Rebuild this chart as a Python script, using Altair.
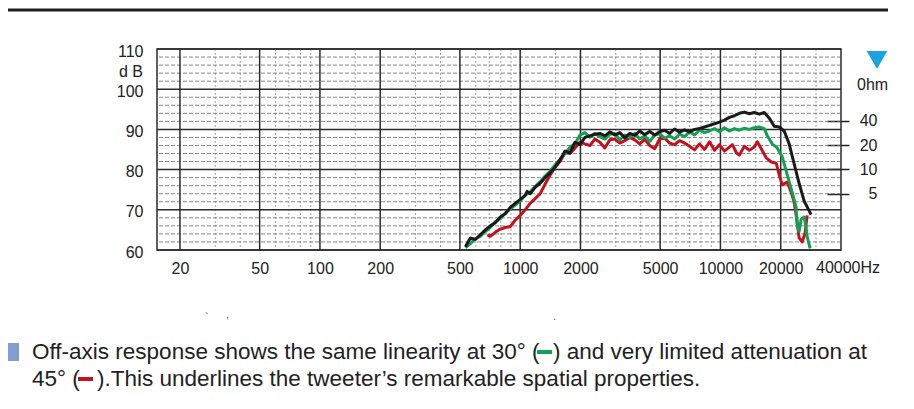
import altair as alt
import pandas as pd

# ---------------- data ----------------
BLACK_HZ = [533, 564, 597, 632, 670, 709, 751, 795, 842, 892, 944, 1000, 1059, 1083, 1121,
            1188, 1258, 1332, 1410, 1494, 1581, 1675, 1774, 1878, 1988, 2106, 2230, 2361,
            2500, 2648, 2804, 2969, 3144, 3330, 3526, 3734, 3954, 4187, 4434, 4695, 4972,
            5265, 5576, 5904, 6252, 6621, 7011, 7425, 7862, 8326, 8817, 9336, 9886, 10469,
            11086, 11740, 12432, 13164, 13941, 14762, 15632, 16554, 17530, 18562, 19657,
            20815, 22042, 23341, 24716, 26173, 27715, 28360]
BLACK_DB = [60.8, 63.0, 62.6, 63.8, 65.0, 66.0, 66.8, 68.2, 69.0, 70.6, 71.6, 72.6, 73.6, 74.6, 74.0,
            75.6, 76.6, 78.0, 79.2, 80.6, 82.4, 84.6, 84.2, 86.8, 86.2, 88.0, 88.4, 88.8,
            89.0, 88.4, 89.4, 88.6, 89.2, 87.9, 89.0, 88.5, 89.6, 88.7, 89.5, 88.6, 89.4,
            89.8, 89.0, 90.1, 89.3, 89.9, 89.4, 90.0, 90.2, 90.6, 91.0, 91.4, 91.8, 92.3,
            93.0, 93.4, 94.0, 94.3, 93.9, 94.2, 93.8, 94.2, 92.8, 90.8, 90.6,
            89.6, 86.4, 81.4, 76.6, 72.2, 69.8, 68.8]

GREEN_HZ = [533, 564, 597, 632, 670, 709, 751, 795, 842, 892, 944, 1000, 1059, 1121,
            1188, 1258, 1332, 1410, 1494, 1581, 1675, 1774, 1878, 1988, 2106, 2230, 2361,
            2500, 2648, 2804, 2969, 3144, 3330, 3526, 3734, 3954, 4187, 4434, 4695, 4972,
            5265, 5576, 5904, 6252, 6621, 7011, 7425, 7862, 8326, 8817, 9336, 9886, 10469,
            11086, 11740, 12432, 13164, 13941, 14762, 15632, 16554, 17135, 18144, 19210,
            20346, 21301, 22042, 22815, 23883, 24160, 24716, 25293, 26173, 26786, 27088, 28039]
GREEN_DB = [60.6, 61.6, 62.8, 63.4, 64.6, 65.6, 67.0, 67.8, 69.2, 70.2, 71.2, 72.2, 73.6, 74.4,
            75.8, 77.0, 78.4, 79.6, 81.2, 82.6, 84.0, 85.6, 86.4, 88.6, 89.2, 88.0, 89.0,
            88.2, 87.6, 88.8, 89.0, 87.4, 88.6, 88.0, 89.0, 87.6, 88.4, 87.0, 88.6, 88.9,
            87.8, 88.4, 87.6, 88.8, 88.2, 89.4, 88.6, 89.8, 89.2, 89.6, 90.2, 89.4, 90.4,
            89.6, 90.2, 89.8, 90.3, 90.0, 90.4, 90.6, 90.2, 88.4, 86.4, 85.4,
            83.2, 79.6, 77.0, 74.4, 70.6, 66.0, 64.6, 67.6, 68.2, 65.6, 63.4, 60.4]

RED_HZ = [685, 709, 751, 795, 842, 892, 944, 1000, 1059, 1121, 1188, 1258, 1332, 1410,
          1494, 1581, 1675, 1774, 1878, 1988, 2106, 2230, 2361, 2500, 2648, 2804, 2969,
          3144, 3330, 3526, 3734, 3954, 4187, 4434, 4695, 4972, 5265, 5576, 5904, 6252,
          6621, 7011, 7425, 7862, 8326, 8817, 9336, 9886, 10469, 11086, 11473, 12013,
          12432, 13164, 13941, 14762, 15280, 15996, 16940, 17937, 18991, 19657, 20346,
          21544, 22555, 23341, 24160, 24716, 25586, 26480, 27088]
RED_DB = [63.8, 63.4, 64.4, 65.2, 65.6, 65.8, 67.4, 68.6, 70.0, 71.6, 72.8, 74.0, 76.4, 78.6,
          80.6, 82.0, 84.2, 84.0, 85.4, 86.8, 86.4, 86.0, 87.6, 86.8, 85.4, 87.4, 87.6,
          86.6, 87.2, 88.0, 87.4, 86.4, 87.6, 86.0, 85.2, 87.6, 87.8, 86.6, 86.2, 87.2,
          86.6, 85.8, 84.9, 86.4, 85.0, 86.9, 84.8, 86.2, 84.6, 85.6, 86.2, 84.2,
          83.6, 85.8, 84.8, 85.6, 86.9, 85.2, 82.9, 81.9, 81.6, 78.7, 76.2,
          76.9, 74.4, 71.9, 67.0, 63.0, 62.0, 64.2, 68.6]

MAJOR_HZ = [20, 50, 100, 200, 500, 1000, 2000, 5000, 10000, 20000]
MINOR_HZ = [30, 40, 60, 70, 80, 90, 150, 300, 400, 600, 700, 800, 900, 1500,
            3000, 4000, 6000, 7000, 8000, 9000, 15000, 30000]
MAJOR_DB = [60, 70, 80, 90, 100, 110]
MINOR_DB = [v for v in range(62, 110, 2) if v % 10 != 0]
OHM_TICKS = [5, 10, 20, 40]

LINE1A = "Off-axis response shows the same linearity at 30° ("
LINE1B = ") and very limited attenuation at"
LINE2A = "45° ("
LINE2B = ").This underlines the tweeter’s remarkable spatial properties."

# ---------------- chart ----------------
FONT = "Liberation Sans"
W, H = 684, 201
xs = alt.Scale(type="log", domain=[15.36, 40000], nice=False)
ys = alt.Scale(domain=[60, 110], nice=False, zero=False)

AX = alt.Axis(values=MAJOR_HZ, format="d", title=None, ticks=False, domain=False, grid=False,
              labelFont=FONT, labelFontSize=16, labelColor="#222222", labelPadding=10,
              labelFlush=False, labelOverlap=False)
AY = alt.Axis(values=MAJOR_DB, title=None, ticks=False, domain=False, grid=False,
              labelFont=FONT, labelFontSize=16, labelColor="#222222", labelPadding=14,
              labelOffset=2, labelFlush=False, labelOverlap=False)


def df(**kw):
    return pd.DataFrame(kw)


X = lambda: alt.X("f:Q", scale=xs, axis=AX)
Y = lambda: alt.Y("db:Q", scale=ys, axis=AY)

minor_v = alt.Chart(df(f=MINOR_HZ)).mark_rule(
    color="#8c8c8c", strokeWidth=0.8, strokeDash=[2, 2]).encode(x=X())
minor_h = alt.Chart(df(db=MINOR_DB)).mark_rule(
    color="#6a6a6a", strokeWidth=0.8, strokeDash=[4, 2]).encode(y=Y())
major_v = alt.Chart(df(f=MAJOR_HZ)).mark_rule(
    color="#2b2b2b", strokeWidth=1.5).encode(x=X())
major_h = alt.Chart(df(db=MAJOR_DB)).mark_rule(
    color="#2b2b2b", strokeWidth=1.5).encode(y=Y())


def curve(hz, db, color):
    return alt.Chart(df(f=hz, db=db)).mark_line(
        color=color, strokeWidth=3, strokeJoin="round"
    ).encode(x=X(), y=Y())


red = curve(RED_HZ, RED_DB, "#c3121f")
green = curve(GREEN_HZ, GREEN_DB, "#14a052")
black = curve(BLACK_HZ, BLACK_DB, "#1a1a1a")

hz_label = alt.Chart(df(t=["40000Hz"])).mark_text(
    align="left", baseline="middle", dx=-25, font=FONT, fontSize=16, color="#222222"
).encode(x=alt.datum(40000), y=alt.value(219), text="t:N")


def txt(s, x, y, size=16, align="left", color="#222222", baseline="middle"):
    return alt.Chart(df(t=[s])).mark_text(
        align=align, baseline=baseline, font=FONT, fontSize=size, color=color
    ).encode(x=alt.value(x), y=alt.value(y), text="t:N")


db_unit = txt("d B", -14, 23, align="right")
ohm_title = txt("0hm", 700, 36)
tri = alt.Chart(df(t=[0])).mark_point(
    shape="triangle-down", filled=True, color="#1aa3e0", size=430, opacity=1
).encode(x=alt.value(720), y=alt.value(11))

top_rule = alt.Chart(df(t=[0])).mark_rule(color="#1e1e1e", strokeWidth=3).encode(
    x=alt.value(-149), x2=alt.value(731), y=alt.value(-39))

bullet = alt.Chart(df(t=[0])).mark_rect(color="#7f9fd2").encode(
    x=alt.value(-149), x2=alt.value(-138), y=alt.value(294), y2=alt.value(312))

l1a = txt(LINE1A, -125, 310, size=22.5, baseline="alphabetic")
l1b = txt(LINE1B, 710, 310, size=22.5, align="right", baseline="alphabetic")
l2a = txt(LINE2A, -125, 337, size=22.5, baseline="alphabetic")
l2b = txt(LINE2B, -60, 337, size=22.5, baseline="alphabetic")

dash_g = alt.Chart(df(t=[0])).mark_rect(color="#14a052").encode(
    x=alt.value(380), x2=alt.value(395), y=alt.value(301), y2=alt.value(305))
dash_r = alt.Chart(df(t=[0])).mark_rect(color="#c3121f").encode(
    x=alt.value(-79), x2=alt.value(-64), y=alt.value(328), y2=alt.value(332))

specks = [txt("`", 48, 269, size=11, color="#555555"),
          txt(",", 69, 266, size=11, color="#555555"),
          txt(".", 396, 268, size=11, color="#555555")]

main = alt.layer(minor_v, minor_h, major_v, major_h, red, green, black, hz_label,
                 db_unit, ohm_title, tri, top_rule, bullet, l1a, l1b, l2a, l2b,
                 dash_g, dash_r, *specks)

ohm = alt.Chart(df(ohm=OHM_TICKS)).mark_point(opacity=0).encode(
    y=alt.Y("ohm:Q", scale=alt.Scale(type="log", domain=[1, 310], nice=False),
            axis=alt.Axis(orient="right", values=OHM_TICKS, format="d", title=None,
                          offset=-14, tickSize=22, tickWidth=1.5, tickColor="#222222",
                          domain=False, grid=False, labelAlign="right", labelPadding=28,
                          labelBaseline="middle", labelFont=FONT, labelFontSize=16,
                          labelColor="#222222", labelFlush=False, labelOverlap=False)))

chart = alt.layer(main, ohm).resolve_scale(y="independent").properties(
    width=W, height=H,
    padding={"left": 149, "top": 41, "right": 65, "bottom": 151},
    autosize=alt.AutoSizeParams(type="none"),
    background="white",
).configure_view(stroke="#2b2b2b", strokeWidth=1.5)

chart.save("out.html", embed_options={"renderer": "svg", "actions": False})
